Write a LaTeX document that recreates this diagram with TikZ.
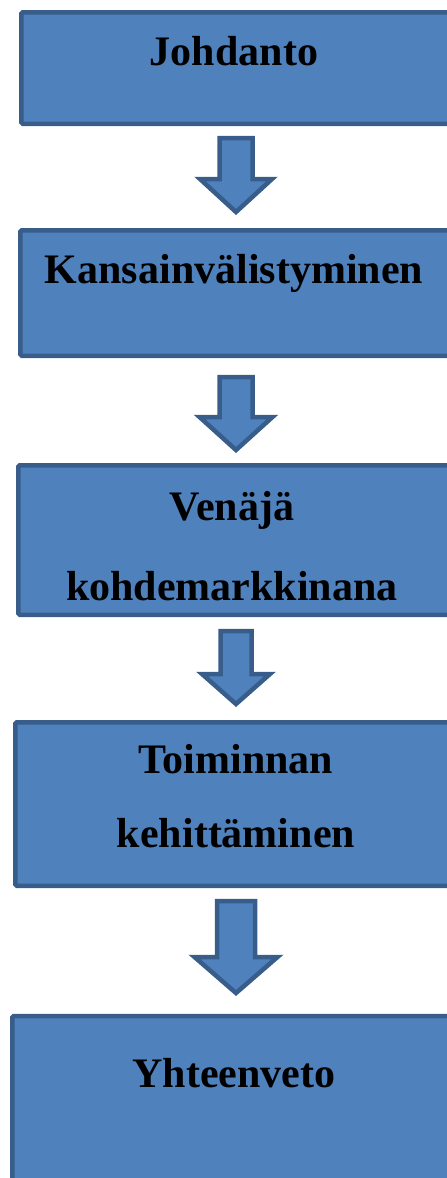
\documentclass[tikz,border=0pt]{standalone}
\usepackage{fontspec}
\setmainfont{Liberation Serif}
\usetikzlibrary{calc}
\definecolor{boxfill}{RGB}{79,129,189}
\definecolor{boxline}{RGB}{56,93,138}
\tikzset{
  stagebox/.style={draw=boxline,line width=4.5pt,fill=boxfill,rounded corners=1.5pt,
                   inner sep=0pt},
  blockarrow/.style={draw=boxline,line width=4.5pt,fill=boxfill,line join=miter},
  heading/.style={font=\fontsize{42}{80}\selectfont\bfseries,text=black,align=center,
                  inner sep=0pt,anchor=base},
}
% #1 box above, #2 gap, #3 shaft half width, #4 shaft length, #5 head half width, #6 head length
\newcommand{\downblock}[6]{%
  \draw[blockarrow] ($(#1.south)+(-#3,#2)$) -- ++(2*#3,0) -- ++(0,#4) -- ++(#5-#3,0)
    -- ++(-#5,#6) -- ++(-#5,-#6) -- ++(#5-#3,0) -- cycle;}

\begin{document}
\begin{tikzpicture}[x=1pt,y=-1pt]
  \useasboundingbox (0,0) rectangle (447,1178);
  \clip (0,0) rectangle (447,1178);

  \node[stagebox,minimum width=429.5pt,minimum height=111.5pt] (intro) at (236,68) {};
  \node[heading] (introtxt) at (234,65) {Johdanto};

  \node[stagebox,minimum width=431.5pt,minimum height=125.5pt] (intl) at (236,293) {};
  \node[heading] (intltxt) at (234,283) {Kansainvälistyminen};

  % base anchor sits on the last line
  \node[stagebox,minimum width=435.5pt,minimum height=149.5pt] (russia) at (236,540) {};
  \node[heading] (russiatxt) at (232,600) {Venäjä\\kohdemarkkinana};

  \node[stagebox,minimum width=441.5pt,minimum height=163.5pt] (devel) at (236,804) {};
  \node[heading,font=\fontsize{42}{74}\selectfont\bfseries] (develtxt) at (236,847)
    {Toiminnan\\kehittäminen};

  \node[stagebox,minimum width=447.5pt,minimum height=220pt] (summary) at (236,1126) {};
  \node[heading] (summarytxt) at (234,1087) {Yhteenveto};

  \downblock{intro}{12}{16.5}{41}{36}{33}
  \downblock{intl}{19}{16.5}{40}{36.5}{33}
  \downblock{russia}{14}{15.5}{43}{34}{30}
  \downblock{devel}{13}{19}{56}{41.5}{36}
\end{tikzpicture}
\end{document}
